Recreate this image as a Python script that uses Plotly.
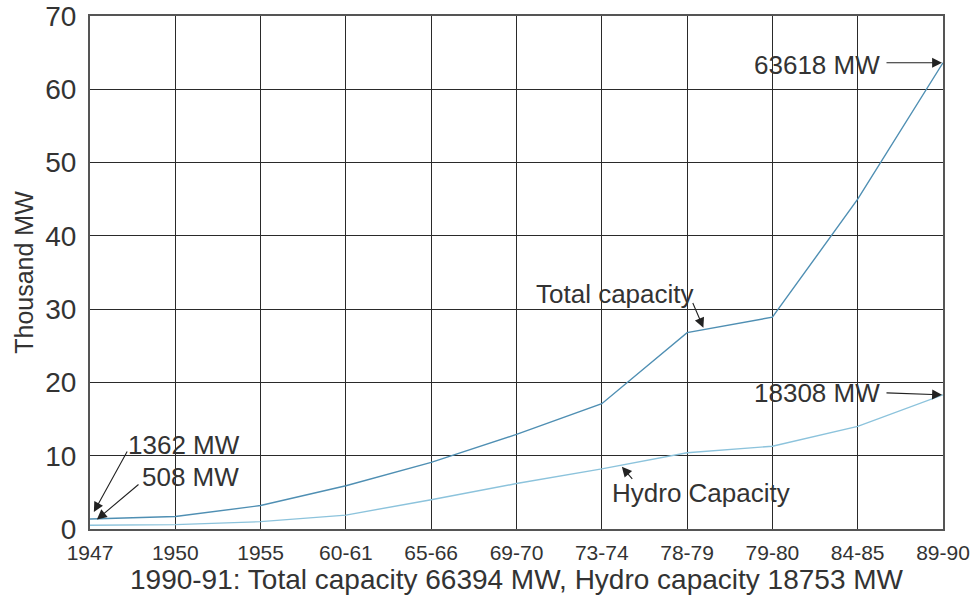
import plotly.graph_objects as go

years = ["1947", "1950", "1955", "60-61", "65-66", "69-70", "73-74", "78-79", "79-80", "84-85", "89-90"]
total_capacity = [1.362, 1.7, 3.2, 5.9, 9.1, 12.9, 17.1, 26.8, 28.9, 45.0, 63.618]
hydro_capacity = [0.508, 0.6, 1.0, 1.9, 4.0, 6.2, 8.2, 10.4, 11.3, 14.0, 18.308]
y_ticks = [0, 10, 20, 30, 40, 50, 60, 70]

FONT = "Liberation Sans, Arial, sans-serif"
TXT = "#333333"
idx = list(range(len(years)))

fig = go.Figure()
fig.add_trace(go.Scatter(x=idx, y=total_capacity, mode="lines",
                         line=dict(color="#4f8fb3", width=1.4), name="Total capacity"))
fig.add_trace(go.Scatter(x=idx, y=hydro_capacity, mode="lines",
                         line=dict(color="#8cc3dc", width=1.4), name="Hydro Capacity"))

def interp(arr, pos):
    i = int(pos)
    f = pos - i
    return arr[i] + f * (arr[i + 1] - arr[i])

ann = []
arrow = dict(showarrow=True, arrowhead=2, arrowsize=1.8, arrowwidth=1.1, arrowcolor="#222222",
             xref="x", yref="y", axref="pixel", ayref="pixel", text="")
afont = dict(family=FONT, size=26, color=TXT)

# 63618 MW
ann.append(dict(x=10, y=total_capacity[10], ax=-58, ay=0, standoff=1, **arrow))
ann.append(dict(x=10, y=total_capacity[10], text="63618 MW", showarrow=False,
                xref="x", yref="y", xshift=-126, yshift=-2, font=afont))
# 18308 MW
ann.append(dict(x=10, y=hydro_capacity[10], ax=-58, ay=-2, standoff=1, **arrow))
ann.append(dict(x=10, y=hydro_capacity[10], text="18308 MW", showarrow=False,
                xref="x", yref="y", xshift=-126, yshift=2, font=afont))
# 1362 MW
ann.append(dict(x=0, y=total_capacity[0], ax=38, ay=-69, standoff=8, **arrow))
ann.append(dict(x=0, y=total_capacity[0], text="1362 MW", showarrow=False,
                xref="x", yref="y", xshift=94, yshift=74, font=afont))
# 508 MW
ann.append(dict(x=0, y=hydro_capacity[0], ax=50, ay=-42, standoff=9, **arrow))
ann.append(dict(x=0, y=hydro_capacity[0], text="508 MW", showarrow=False,
                xref="x", yref="y", xshift=100, yshift=48, font=afont))
# Total capacity label
p = 7.2
ann.append(dict(x=p, y=interp(total_capacity, p), ax=-12, ay=-28, standoff=2, **arrow))
ann.append(dict(x=p, y=interp(total_capacity, p), text="Total capacity", showarrow=False,
                xref="x", yref="y", xshift=-89, yshift=36, font=afont))
# Hydro Capacity label
p2 = 6.22
ann.append(dict(x=p2, y=interp(hydro_capacity, p2), ax=13, ay=15, standoff=2, **arrow))
ann.append(dict(x=p2, y=interp(hydro_capacity, p2), text="Hydro Capacity", showarrow=False,
                xref="x", yref="y", xshift=80, yshift=-28, font=afont))

fig.update_layout(
    width=979, height=607,
    margin=dict(l=90, r=36, t=16, b=78, autoexpand=False),
    paper_bgcolor="white", plot_bgcolor="white",
    showlegend=False,
    font=dict(family=FONT, color=TXT),
    annotations=ann,
    xaxis=dict(
        tickmode="array", tickvals=idx, ticktext=years,
        range=[0, len(years) - 1], automargin=False,
        showgrid=True, gridcolor="#2a2a2a", gridwidth=1.4,
        showline=True, linecolor="#555555", linewidth=2, mirror=True,
        ticks="", ticklabelstandoff=4, ticklabeloverflow="allow",
        tickfont=dict(family=FONT, size=21, color=TXT),
        title=dict(text="1990-91: Total capacity 66394 MW, Hydro capacity 18753 MW",
                   font=dict(family=FONT, size=28, color=TXT), standoff=0),
        zeroline=False,
    ),
    yaxis=dict(
        tickmode="array", tickvals=y_ticks,
        range=[0, 70], automargin=False,
        showgrid=True, gridcolor="#2a2a2a", gridwidth=1.4,
        showline=True, linecolor="#555555", linewidth=2, mirror=True,
        ticks="", ticklabelstandoff=6, ticklabeloverflow="allow",
        tickfont=dict(family=FONT, size=28, color=TXT),
        title=dict(text="Thousand MW", font=dict(family=FONT, size=25, color=TXT), standoff=4),
        zeroline=False,
    ),
)

fig.write_html("out.html", config={"displayModeBar": False},
               post_script="document.body.style.margin='0';")
